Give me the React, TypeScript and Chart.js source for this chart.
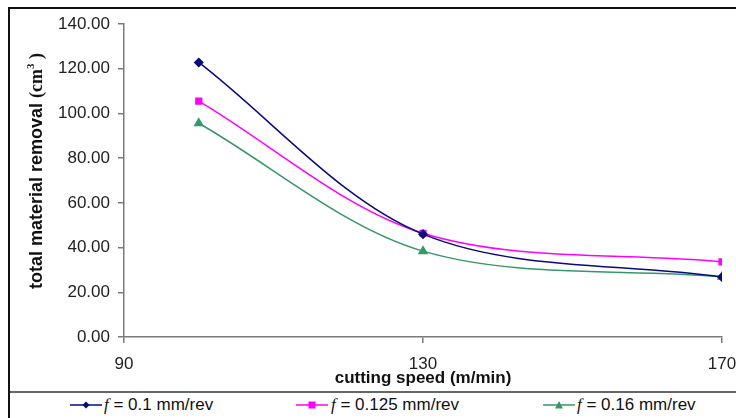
import React, { useEffect, useRef } from "react";
import { Chart, registerables } from "chart.js";

Chart.register(...registerables);

// ---- data ----
const cuttingSpeeds = [100, 130, 170];
const seriesF010 = [122.8, 46.0, 26.8];
const seriesF0125 = [105.5, 46.4, 33.6];
const seriesF016 = [95.6, 38.4, 26.9];
const seriesLabels = ["0.1 mm/rev", "0.125 mm/rev", "0.16 mm/rev"];
const xTickValues = [90, 130, 170];
const yMin = 0;
const yMax = 140;
const yStep = 20;

const NAVY = "#0a0a7c";
const PINK = "#ff00ff";
const GREEN = "#349868";
const SANS = "'Liberation Sans', Arial, sans-serif";
const SERIF = "'Liberation Serif', 'Times New Roman', serif";

const yTitlePlugin = {
  id: "yTitle",
  afterDraw(chart: any) {
    const ctx = chart.ctx as CanvasRenderingContext2D;
    const parts = [
      { t: "total material removal ", f: `bold 18px ${SANS}`, dy: 0 },
      { t: "(cm", f: `bold 18px ${SERIF}`, dy: 0 },
      { t: "3", f: `bold 11px ${SERIF}`, dy: -6 },
      { t: " )", f: `bold 18px ${SERIF}`, dy: 0 },
    ];
    ctx.save();
    let total = 0;
    const widths = parts.map((p) => {
      ctx.font = p.f;
      const w = ctx.measureText(p.t).width;
      total += w;
      return w;
    });
    ctx.translate(37, 171);
    ctx.rotate(-Math.PI / 2);
    ctx.fillStyle = "#111";
    ctx.textBaseline = "middle";
    ctx.textAlign = "left";
    let x = -total / 2;
    parts.forEach((p, i) => {
      ctx.font = p.f;
      ctx.fillText(p.t, x, p.dy);
      x += widths[i];
    });
    ctx.restore();
  },
};

function Swatch({ color, shape }: { color: string; shape: string }) {
  let marker: any = null;
  if (shape === "diamond") marker = <polygon points="16,1.5 19.5,5 16,8.5 12.5,5" fill={color} />;
  if (shape === "square") marker = <rect x="12.5" y="1.5" width="7" height="7" fill={color} />;
  if (shape === "triangle") marker = <polygon points="16,1 20,8.5 12,8.5" fill={color} />;
  return (
    <svg width="32" height="10" style={{ display: "block" }}>
      <line x1="0" y1="5" x2="32" y2="5" stroke={color} strokeWidth="1.5" />
      {marker}
    </svg>
  );
}

export default function App() {
  const ref = useRef<HTMLCanvasElement | null>(null);

  useEffect(() => {
    if (!ref.current) return;
    const mk = (vals: number[]) => cuttingSpeeds.map((x, i) => ({ x, y: vals[i] }));
    const gridCfg = {
      drawOnChartArea: false,
      drawTicks: true,
      tickLength: 6,
      color: "#7a7a7a",
      lineWidth: 1.5,
    };
    const chart = new Chart(ref.current, {
      type: "line",
      data: {
        datasets: [
          {
            label: "f = " + seriesLabels[0],
            data: mk(seriesF010),
            borderColor: NAVY,
            backgroundColor: NAVY,
            pointStyle: "rectRot",
            pointRadius: 4,
            borderWidth: 1.5,
            tension: 0.33,
          },
          {
            label: "f = " + seriesLabels[1],
            data: mk(seriesF0125),
            borderColor: PINK,
            backgroundColor: PINK,
            pointStyle: "rect",
            pointRadius: 4,
            borderWidth: 1.5,
            tension: 0.33,
          },
          {
            label: "f = " + seriesLabels[2],
            data: mk(seriesF016),
            borderColor: GREEN,
            backgroundColor: GREEN,
            pointStyle: "triangle",
            pointRadius: 4.5,
            borderWidth: 1.5,
            tension: 0.33,
          },
        ],
      },
      options: {
        animation: false,
        responsive: false,
        devicePixelRatio: 1,
        layout: { padding: { left: 0, top: 24, right: 14, bottom: 0 } },
        plugins: {
          legend: { display: false },
          tooltip: { enabled: false },
        },
        scales: {
          x: {
            type: "linear",
            min: 90,
            max: 170,
            afterBuildTicks: (s: any) => {
              s.ticks = xTickValues.map((v) => ({ value: v }));
            },
            afterFit: (s: any) => {
              s.height = 53;
              s.paddingRight = 14;
              s.paddingLeft = 0;
            },
            ticks: {
              color: "#222",
              font: { family: SANS, size: 17 },
              padding: 11,
              maxRotation: 0,
            },
            grid: gridCfg,
            border: { color: "#7a7a7a", width: 1.5 },
            title: {
              display: true,
              text: "cutting speed (m/min)",
              color: "#111",
              font: { family: SANS, size: 17, weight: "bold" },
              padding: { top: 0, bottom: 1 },
            },
          },
          y: {
            min: yMin,
            max: yMax,
            afterFit: (s: any) => {
              s.width = 124;
            },
            ticks: {
              stepSize: yStep,
              color: "#222",
              font: { family: SANS, size: 17 },
              padding: 8,
              callback: (v: any) => Number(v).toFixed(2),
            },
            grid: gridCfg,
            border: { color: "#7a7a7a", width: 1.5 },
            title: { display: false },
          },
        },
      } as any,
      plugins: [yTitlePlugin],
    });
    return () => chart.destroy();
  }, []);

  const legendItems = [
    { color: NAVY, shape: "diamond", sw: 70, tx: 104, label: seriesLabels[0] },
    { color: PINK, shape: "square", sw: 296, tx: 331, label: seriesLabels[1] },
    { color: GREEN, shape: "triangle", sw: 543, tx: 577, label: seriesLabels[2] },
  ];

  return (
    <div
      style={{
        position: "fixed",
        left: 0,
        top: 0,
        width: 736,
        height: 418,
        background: "#fff",
        overflow: "hidden",
        fontFamily: SANS,
      }}
    >
      <div
        style={{
          position: "absolute",
          left: 8,
          top: 7,
          width: 900,
          height: 600,
          borderTop: "2px solid #111",
          borderLeft: "2px solid #111",
        }}
      />
      <div
        style={{
          position: "absolute",
          left: 10,
          top: 391,
          width: 760,
          height: 2,
          background: "#666",
        }}
      />
      <canvas
        ref={ref}
        width={736}
        height={390}
        style={{ position: "absolute", left: 0, top: 0, width: 736, height: 390 }}
      />
      {legendItems.map((it, i) => (
        <React.Fragment key={i}>
          <div style={{ position: "absolute", left: it.sw, top: 400 }}>
            <Swatch color={it.color} shape={it.shape} />
          </div>
          <div
            style={{
              position: "absolute",
              left: it.tx,
              top: 395,
              fontSize: 17,
              lineHeight: "20px",
              color: "#111",
              whiteSpace: "nowrap",
            }}
          >
            <span style={{ fontFamily: SERIF, fontStyle: "italic" }}>f</span>
            <span> = {it.label}</span>
          </div>
        </React.Fragment>
      ))}
    </div>
  );
}
